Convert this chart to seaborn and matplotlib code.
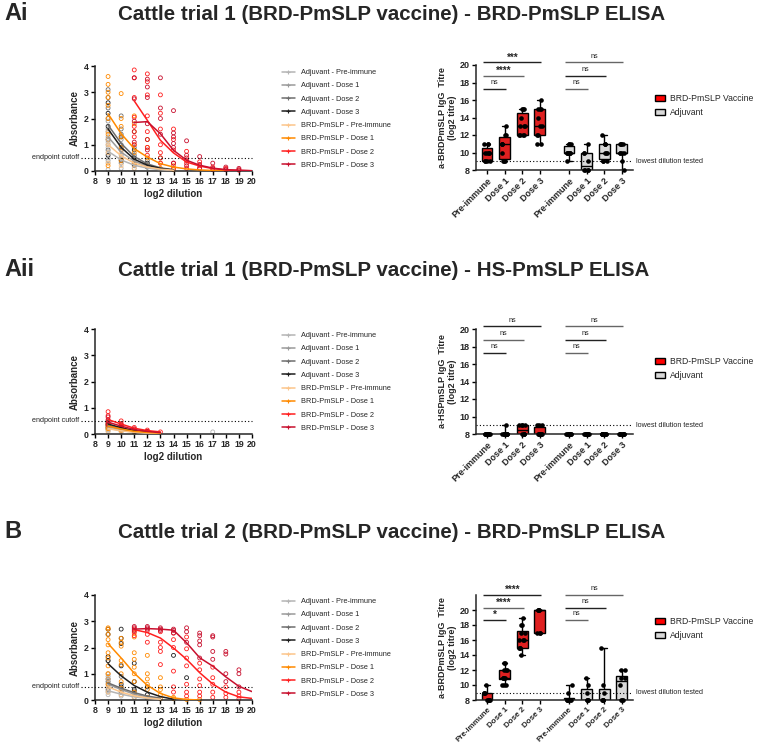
import numpy as np
import pandas as pd
import matplotlib
matplotlib.use("Agg")
import matplotlib.pyplot as plt
import matplotlib.transforms as mtransforms
import seaborn as sns
from matplotlib.lines import Line2D
from matplotlib.patches import Patch

W, H = 757, 744

# ---------------- data ----------------
GROUPS = ["Adjuvant - Pre-immune", "Adjuvant - Dose 1", "Adjuvant - Dose 2", "Adjuvant - Dose 3",
          "BRD-PmSLP - Pre-immune", "BRD-PmSLP - Dose 1", "BRD-PmSLP - Dose 2", "BRD-PmSLP - Dose 3"]
GROUP_COLORS = ["#b4b4b4", "#9a9a9a", "#6e6e6e", "#1e1e1e",
                "#fcc58a", "#ff8a00", "#ff1f1f", "#c8102e"]
DILUTION_TICKS = list(range(8, 21))
ABS_TICKS = [0, 1, 2, 3, 4]

TITLES = ["Cattle trial 1 (BRD-PmSLP vaccine) - BRD-PmSLP ELISA",
          "Cattle trial 1 (BRD-PmSLP vaccine) - HS-PmSLP ELISA",
          "Cattle trial 2 (BRD-PmSLP vaccine) - BRD-PmSLP ELISA"]
PANEL_LABELS = ["Ai", "Aii", "B"]
Y_LABELS = ["a-BRDPmSLP IgG  Titre\n(log2 titre)",
            "a-HSPmSLP IgG  Titre\n(log2 titre)",
            "a-BRDPmSLP IgG  Titre\n(log2 titre)"]

# fitted curves: starting dilution of each group and values at consecutive dilutions
AI_START = [9, 9, 9, 9, 9, 9, 11, 11]
AI_CURVES = [
    [0.75, 0.42, 0.22, 0.11, 0.05, 0.02],
    [1.30, 0.72, 0.37, 0.18, 0.08, 0.03],
    [1.75, 1.05, 0.55, 0.27, 0.12, 0.05],
    [1.60, 0.90, 0.45, 0.22, 0.10, 0.04],
    [1.00, 0.58, 0.30, 0.15, 0.07, 0.03],
    [2.18, 1.42, 0.85, 0.53, 0.28, 0.15, 0.08, 0.04, 0.02, 0.01, 0.01, 0.0],
    [2.67, 1.93, 1.17, 0.69, 0.34, 0.19, 0.09, 0.04, 0.02, 0.01],
    [1.85, 1.88, 1.42, 0.79, 0.41, 0.22, 0.11, 0.05, 0.03, 0.01],
]
AII_START = [9, 9, 9, 9, 9, 9, 9, 9]
AII_CURVES = [
    [0.22, 0.13, 0.07, 0.04, 0.02],
    [0.28, 0.17, 0.09, 0.05, 0.03],
    [0.33, 0.20, 0.11, 0.06, 0.03],
    [0.38, 0.24, 0.13, 0.07, 0.04],
    [0.20, 0.12, 0.07, 0.04, 0.02],
    [0.30, 0.19, 0.10, 0.06, 0.03],
    [0.55, 0.38, 0.22, 0.13, 0.08],
    [0.45, 0.30, 0.17, 0.10, 0.05],
]
B_START = [9, 9, 9, 9, 9, 9, 11, 11]
B_CURVES = [
    [0.35, 0.22, 0.12, 0.06, 0.03],
    [0.60, 0.40, 0.22, 0.11, 0.05],
    [0.65, 0.45, 0.28, 0.15, 0.07],
    [1.38, 0.92, 0.55, 0.30, 0.13, 0.03],
    [0.50, 0.30, 0.16, 0.08, 0.03],
    [2.15, 1.60, 1.02, 0.56, 0.25, 0.08, 0.02, 0.0],
    [2.68, 2.57, 2.36, 1.98, 1.55, 1.04, 0.61, 0.30, 0.12, 0.06],
    [2.70, 2.72, 2.70, 2.66, 2.18, 1.61, 1.29, 0.88, 0.52, 0.32],
]

# individual animal absorbances {group index: {dilution: [values]}}
AI_POINTS = {
    0: {9: [0.05, 0.3, 0.5, 0.7, 0.9, 1.1], 10: [0.1, 0.3, 0.45], 11: [0.1, 0.2]},
    1: {9: [0.4, 1.0, 1.3, 1.6, 1.9], 10: [0.3, 0.6, 0.9, 1.2], 11: [0.2, 0.4]},
    2: {9: [0.8, 1.5, 2.0, 2.4, 2.8, 3.1], 10: [0.5, 1.0, 1.4, 1.6, 2.1], 11: [0.3, 0.6, 0.9], 12: [0.2, 0.4]},
    3: {9: [0.6, 1.2, 1.7, 2.2, 2.6], 10: [0.4, 0.8, 1.3], 11: [0.25, 0.5, 0.8], 12: [0.15, 0.3]},
    4: {9: [0.3, 0.7, 1.0, 1.2, 1.5], 10: [0.2, 0.5, 0.7], 11: [0.1, 0.3]},
    5: {9: [0.2, 1.4, 2.0, 2.5, 2.8, 3.0, 3.3, 3.6], 10: [0.4, 0.9, 1.3, 1.7, 2.0, 2.95],
        11: [0.3, 0.7, 1.0, 1.5, 1.8, 2.1], 12: [0.2, 0.5, 0.9, 1.2], 13: [0.1, 0.3, 0.5], 14: [0.05, 0.2]},
    6: {11: [1.0, 1.3, 1.7, 2.05, 2.8, 3.55, 3.85], 12: [0.6, 0.9, 1.5, 2.1, 2.9, 3.4, 3.7],
        13: [0.3, 0.7, 1.0, 1.6, 2.2, 2.9], 14: [0.1, 0.3, 0.8, 1.2, 1.6], 15: [0.1, 0.3, 0.5, 0.75],
        16: [0.1, 0.2, 0.35], 17: [0.05, 0.15], 18: [0.05, 0.1], 19: [0.03]},
    7: {11: [1.1, 1.5, 1.9, 2.75, 3.55], 12: [0.8, 1.2, 1.8, 2.8, 3.2, 3.5], 13: [0.5, 1.4, 2.0, 2.4, 3.55],
        14: [0.3, 0.9, 1.05, 1.3, 1.45, 2.3], 15: [0.2, 0.4, 0.6, 1.15], 16: [0.1, 0.25, 0.55],
        17: [0.1, 0.3], 18: [0.05, 0.15], 19: [0.05, 0.1]},
}
AII_POINTS = {
    0: {9: [0.1, 0.2, 0.3], 10: [0.1, 0.15], 11: [0.05], 17: [0.08]},
    1: {9: [0.15, 0.25, 0.35], 10: [0.1, 0.2], 11: [0.08]},
    2: {9: [0.2, 0.3, 0.4], 10: [0.15, 0.25], 11: [0.1]},
    3: {9: [0.25, 0.35, 0.45], 10: [0.2, 0.3], 11: [0.12]},
    4: {9: [0.1, 0.2, 0.3], 10: [0.1, 0.15]},
    5: {9: [0.2, 0.3, 0.4], 10: [0.15, 0.25], 11: [0.1]},
    6: {9: [0.4, 0.55, 0.7, 0.85], 10: [0.3, 0.4, 0.5], 11: [0.15, 0.25], 12: [0.1, 0.15], 13: [0.08]},
    7: {9: [0.35, 0.5, 0.65], 10: [0.25, 0.35], 11: [0.15, 0.2], 12: [0.1]},
}
B_POINTS = {
    0: {9: [0.2, 0.35, 0.5, 0.7], 10: [0.15, 0.3], 11: [0.1, 0.2], 12: [0.05]},
    1: {9: [0.3, 0.6, 0.9, 1.0], 10: [0.2, 0.4, 0.5], 11: [0.1, 0.3]},
    2: {9: [0.4, 0.7, 1.5], 10: [0.3, 0.5, 0.9], 11: [0.2, 0.35]},
    3: {9: [0.8, 1.5, 1.65, 2.5, 2.7], 10: [0.6, 1.3, 2.15, 2.35, 2.7], 11: [0.4, 0.7, 1.4],
        12: [0.2, 0.5], 14: [1.7], 15: [0.85]},
    4: {9: [0.3, 0.5, 0.8, 1.0], 10: [0.2, 0.4], 11: [0.1, 0.2]},
    5: {9: [0.6, 1.0, 1.3, 1.6, 1.8, 2.1, 2.3, 2.5, 2.7, 2.75], 10: [0.45, 0.7, 1.0, 1.35, 1.5, 2.05, 2.2, 2.35],
        11: [0.3, 0.7, 1.0, 1.25, 1.55, 1.8, 2.4, 2.55], 12: [0.1, 0.4, 0.6, 0.8, 1.0, 1.7],
        13: [0.05, 0.2, 0.4, 0.5, 0.85], 14: [0.05, 0.1], 15: [0.02], 16: [0.02]},
    6: {11: [2.45, 2.6, 2.7], 12: [2.2, 2.5, 2.65], 13: [1.35, 1.85, 2.0, 2.2, 2.6],
        14: [0.3, 0.5, 1.1, 2.0, 2.3, 2.55], 15: [0.15, 0.3, 0.6, 1.3, 1.6, 1.95, 2.4],
        16: [0.15, 0.3, 0.55, 0.8, 1.15, 1.4], 17: [0.1, 0.3, 0.6, 0.85, 1.25], 18: [0.1, 0.25, 0.5],
        19: [0.05, 0.15, 0.3]},
    7: {11: [2.65, 2.75, 2.8], 12: [2.7, 2.75, 2.8], 13: [2.65, 2.7, 2.75], 14: [2.55, 2.65, 2.7],
        15: [2.2, 2.6, 2.75], 16: [1.6, 2.1, 2.25, 2.45, 2.55], 17: [1.55, 1.85, 2.4, 2.45],
        18: [0.7, 1.0, 1.75, 1.85], 19: [0.5, 1.0, 1.15]},
}

# titres (log2) per animal
BOX_CATS = ["Pre-immune", "Dose 1", "Dose 2", "Dose 3"]
BOX_GROUPS = ["BRD-PmSLP Vaccine", "Adjuvant"]
BOX_COLORS = ["#ff0000", "#d9d9d9"]
AI_VAX = [[9, 9, 9, 9, 10, 10, 10, 10, 11, 11, 11], [9, 9, 9, 10, 11, 11, 11, 12, 12, 13],
          [12, 12, 12, 12, 13, 13, 13, 14, 15, 15, 15], [11, 11, 12, 12, 13, 13, 14, 15, 15, 15, 16]]
AI_ADJ = [[9, 10, 10, 10, 10, 10, 10, 11, 11, 11], [8, 8, 8, 8, 9, 10, 10, 11],
          [9, 9, 9, 10, 10, 10, 11, 11, 11, 12], [8, 9, 10, 10, 10, 10, 11, 11, 11, 11]]
AII_VAX = [[8] * 9, [8, 8, 8, 8, 8, 8, 8, 8, 9], [8, 8, 8, 8, 9, 9, 9, 9], [8, 8, 8, 8, 8, 8, 8, 9, 9, 9]]
AII_ADJ = [[8] * 9, [8] * 9, [8] * 9, [8] * 9]
B_VAX = [[8, 8, 8, 8, 8, 9, 9, 9, 10], [10, 10, 10, 11, 11, 11, 11, 12, 12, 12, 13, 13],
         [14, 15, 15, 15, 16, 16, 16, 17, 17, 18, 18, 19], [17, 17, 17, 20, 20, 20, 20]]
B_ADJ = [[8, 8, 8, 8, 8, 8, 9, 10], [8, 8, 8, 8, 9, 10, 11], [8, 8, 8, 8, 9, 10, 15],
         [8, 8, 8, 10, 11, 11, 12, 12]]

# significance annotations: (group, comparison dose index, label)
AI_SIG = [("vax", 1, "ns"), ("vax", 2, "****"), ("vax", 3, "***"),
          ("adj", 1, "ns"), ("adj", 2, "ns"), ("adj", 3, "ns")]
AII_SIG = [("vax", 1, "ns"), ("vax", 2, "ns"), ("vax", 3, "ns"),
           ("adj", 1, "ns"), ("adj", 2, "ns"), ("adj", 3, "ns")]
B_SIG = [("vax", 1, "*"), ("vax", 2, "****"), ("vax", 3, "****"),
         ("adj", 1, "ns"), ("adj", 2, "ns"), ("adj", 3, "ns")]

# ---------------- style ----------------
sns.set_style("ticks")
plt.rcParams["font.family"] = ["Liberation Sans", "DejaVu Sans"]
plt.rcParams["axes.linewidth"] = 1.1

PALETTE = dict(zip(GROUPS, GROUP_COLORS))
BOX_PAL = dict(zip(BOX_GROUPS, BOX_COLORS))
POS_VAX = [0.0, 1.0, 2.0, 3.0]
POS_ADJ = [4.66, 5.66, 6.66, 7.66]

fig = plt.figure(figsize=(W / 100, H / 100), dpi=100)


def rect(l, t, r, b):
    return [l / W, 1 - b / H, (r - l) / W, (b - t) / H]


def style_axis(ax, fs):
    for s in ["top", "right"]:
        ax.spines[s].set_visible(False)
    ax.tick_params(length=3, width=1.0, labelsize=fs, pad=1.5, color="black")
    for lab in ax.get_xticklabels() + ax.get_yticklabels():
        lab.set_fontweight("bold")


def line_panel(top, starts, curves, points):
    ax = fig.add_axes(rect(95, top, 252, top + 105))
    rows = []
    for gi, d in points.items():
        for dil, vals in d.items():
            for v in vals:
                rows.append((dil, v, GROUPS[gi]))
    pdf = pd.DataFrame(rows, columns=["dilution", "absorbance", "group"])
    sns.scatterplot(data=pdf, x="dilution", y="absorbance", hue="group", palette=PALETTE,
                    hue_order=GROUPS, s=8, marker="o", linewidth=0.6, legend=False, ax=ax,
                    clip_on=False, zorder=2)
    coll = ax.collections[-1]
    fcs = coll.get_facecolors()
    coll.set_edgecolors(fcs)
    coll.set_facecolors("none")

    crow = []
    for gi, (st, vals) in enumerate(zip(starts, curves)):
        for k, v in enumerate(vals):
            crow.append((st + k, v, GROUPS[gi]))
    cdf = pd.DataFrame(crow, columns=["dilution", "absorbance", "group"])
    sns.lineplot(data=cdf, x="dilution", y="absorbance", hue="group", palette=PALETTE,
                 hue_order=GROUPS, estimator=None, linewidth=1.1, legend=False, ax=ax, zorder=3)

    ax.set_xlim(8, 20)
    ax.set_ylim(0, 4)
    ax.set_xticks(DILUTION_TICKS)
    ax.set_yticks(ABS_TICKS)
    ax.set_xlabel("log2 dilution", fontsize=7, fontweight="bold", labelpad=2)
    ax.set_ylabel("Absorbance", fontsize=7, fontweight="bold", labelpad=3)
    style_axis(ax, 6.3)
    trans = mtransforms.blended_transform_factory(ax.transAxes, ax.transData)
    ax.plot([-0.09, 1.0], [0.5, 0.5], transform=trans, ls=(0, (1, 2)), color="black",
            lw=0.8, clip_on=False)
    ax.text(-0.1, 0.5, "endpoint cutoff", transform=trans, ha="right", va="center", fontsize=5.2)

    handles = [Line2D([], [], color=c, lw=1.1, marker="+", ms=3, mew=0.8) for c in GROUP_COLORS]
    fig.legend(handles, GROUPS, loc="upper left", bbox_to_anchor=(282 / W, 1 - (top + 3) / H),
               frameon=False, fontsize=5.3, handlelength=1.7, handletextpad=0.9,
               labelspacing=0.83, borderpad=0, borderaxespad=0)
    return ax


def box_panel(top, vax, adj, ytop, ylabel, sigs, sig_levels, legend_top, xfs):
    ax = fig.add_axes(rect(476, top, 633, top + 105))
    rows = []
    for i, vals in enumerate(vax):
        for v in vals:
            rows.append((POS_VAX[i], v, BOX_GROUPS[0]))
    for i, vals in enumerate(adj):
        for v in vals:
            rows.append((POS_ADJ[i], v, BOX_GROUPS[1]))
    df = pd.DataFrame(rows, columns=["pos", "titre", "grp"])
    sns.boxplot(data=df, x="pos", y="titre", hue="grp", palette=BOX_PAL, hue_order=BOX_GROUPS,
                native_scale=True, dodge=False, width=0.62, whis=(0, 100), showfliers=False,
                linecolor="black", linewidth=1.0, legend=False, ax=ax)
    sns.stripplot(data=df, x="pos", y="titre", native_scale=True, color="black", size=3.3,
                  jitter=0.17, ax=ax, zorder=4, clip_on=False)
    ax.set_xlim(-0.625, 8.3)
    ax.set_ylim(8, ytop)
    ax.set_yticks([8, 10, 12, 14, 16, 18, 20])
    ax.set_xticks(POS_VAX + POS_ADJ)
    ax.set_xticklabels(BOX_CATS + BOX_CATS, rotation=45, ha="right", rotation_mode="anchor")
    ax.set_xlabel("")
    ax.set_ylabel(ylabel, fontsize=6.5, fontweight="bold", labelpad=2, linespacing=1.1)
    style_axis(ax, 6.5)
    ax.tick_params(axis="x", pad=1.5, labelsize=xfs)

    ax.axhline(9, ls=(0, (1, 2)), color="black", lw=0.8)
    trans = mtransforms.blended_transform_factory(ax.transAxes, ax.transData)
    ax.text(1.02, 9, "lowest dilution tested", transform=trans, ha="left", va="center", fontsize=5.2)

    for (grp, k, label), lev in zip(sigs, sig_levels):
        base = POS_VAX if grp == "vax" else POS_ADJ
        x0, x1 = base[0] - 0.2, base[k] + 0.08
        col = "#222222" if (grp == "vax") == (k != 2) else "#666666"
        ax.plot([x0, x1], [lev, lev], color=col, lw=1.0, clip_on=False, solid_capstyle="butt")
        if label == "ns":
            ax.annotate(label, xy=((x0 + x1) / 2, lev), xytext=(0, 2), textcoords="offset points",
                        ha="center", va="bottom", fontsize=5.2, annotation_clip=False)
        else:
            ax.annotate(label, xy=((x0 + x1) / 2, lev), xytext=(0, 0), textcoords="offset points",
                        ha="center", va="bottom", fontsize=7, fontweight="bold", annotation_clip=False)

    handles = [Patch(facecolor=c, edgecolor="black", linewidth=1.0) for c in BOX_COLORS]
    fig.legend(handles, BOX_GROUPS, loc="upper left", bbox_to_anchor=(655 / W, 1 - legend_top / H),
               frameon=False, fontsize=6.2, handlelength=1.15, handleheight=0.7, handletextpad=0.6,
               labelspacing=0.55, borderpad=0, borderaxespad=0)
    return ax


SIG_LEVELS_A = [17.3, 18.75, 20.3, 17.3, 18.75, 20.3]
SIG_LEVELS_B = [18.7, 20.3, 22.0, 18.7, 20.3, 22.0]

line_panel(66, AI_START, AI_CURVES, AI_POINTS)
box_panel(65, AI_VAX, AI_ADJ, 20, Y_LABELS[0], AI_SIG, SIG_LEVELS_A, 94, 6.5)
line_panel(329, AII_START, AII_CURVES, AII_POINTS)
box_panel(329, AII_VAX, AII_ADJ, 20, Y_LABELS[1], AII_SIG, SIG_LEVELS_A, 357, 6.5)
line_panel(595, B_START, B_CURVES, B_POINTS)
box_panel(595, B_VAX, B_ADJ, 22, Y_LABELS[2], B_SIG, SIG_LEVELS_B, 617, 5.8)

# titles
fig.text(118 / W, 1 - 14 / H, TITLES[0], ha="left", va="center", fontsize=14.8, fontweight="bold")
fig.text(118 / W, 1 - 270 / H, TITLES[1], ha="left", va="center", fontsize=14.8, fontweight="bold")
fig.text(118 / W, 1 - 532 / H, TITLES[2], ha="left", va="center", fontsize=14.8, fontweight="bold")
fig.text(4 / W, 1 - 14 / H, PANEL_LABELS[0], ha="left", va="center", fontsize=17, fontweight="bold")
fig.text(4 / W, 1 - 270 / H, PANEL_LABELS[1], ha="left", va="center", fontsize=17, fontweight="bold")
fig.text(4 / W, 1 - 532 / H, PANEL_LABELS[2], ha="left", va="center", fontsize=17, fontweight="bold")

fig.savefig("out.png", dpi=100)
